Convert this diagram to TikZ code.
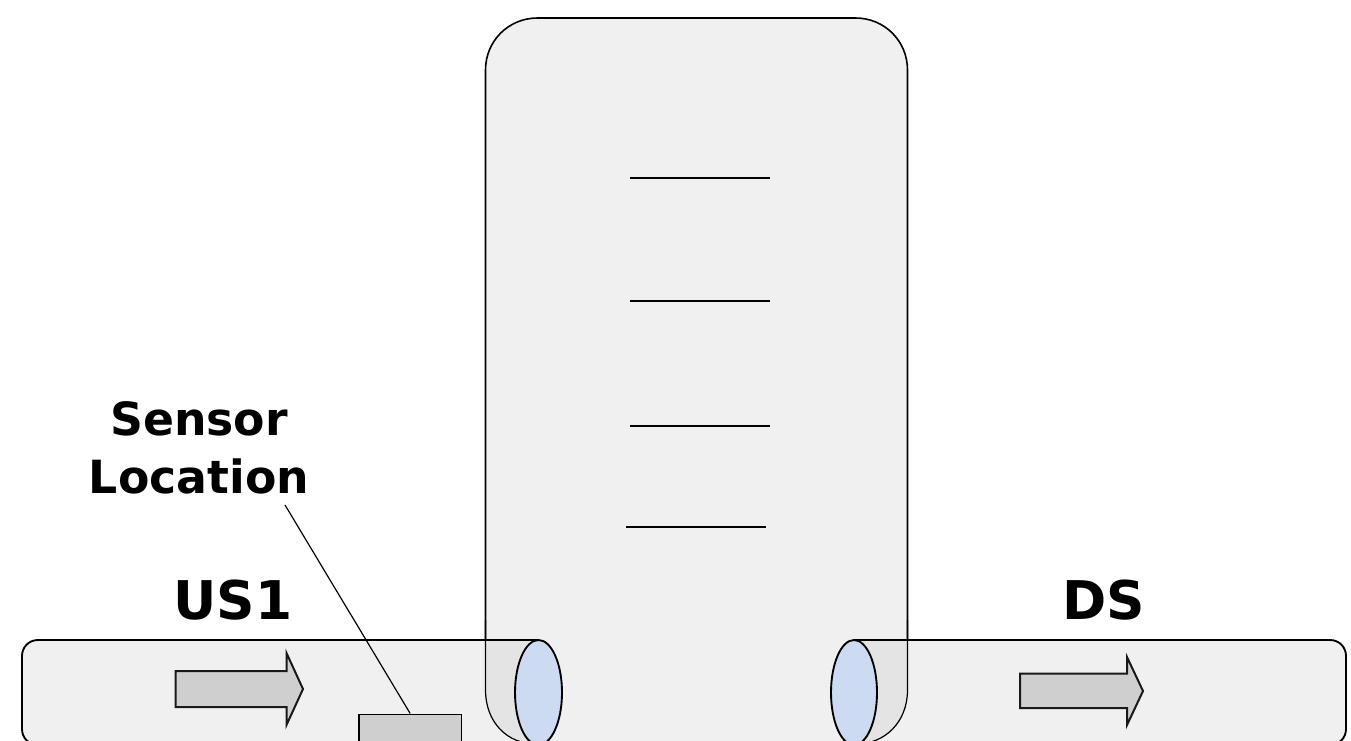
\documentclass[tikz,border=0pt]{standalone}
\usepackage{fontspec}
\setmainfont{DejaVu Sans}
\definecolor{body}{HTML}{F0F0F0}
\definecolor{sidegrey}{HTML}{E4E4E4}
\definecolor{mouth}{HTML}{CCDBF2}
\definecolor{part}{HTML}{CFCFCF}
\tikzset{
  shell/.style={draw=black,fill=body,line width=1.2pt},
  edgeline/.style={draw=black,line width=1.4pt},
  thinedge/.style={draw=black,line width=0.9pt},
  mouthring/.style={draw=black,fill=mouth,line width=1.4pt},
  flow/.style={draw=black!90,fill=part,line width=1.5pt,line join=miter},
  tray/.style={draw=black,line width=1.3pt},
  lead/.style={draw=black,line width=0.9pt},
  bigtext/.style={font=\bfseries\fontsize{40pt}{46pt}\selectfont,inner sep=0pt},
  midtext/.style={font=\bfseries\fontsize{34.3pt}{43pt}\selectfont,inner sep=0pt,align=center}
}
\begin{document}
\begin{tikzpicture}[x=0.75pt,y=-0.75pt]
\useasboundingbox (0,0) rectangle (1351,740);
\fill[white] (0,0) rectangle (1351,740);
\begin{scope}
\clip (0,0) rectangle (1351,741);
% column body
\draw[shell] (485.5,690) -- (485.5,70) .. controls (485.5,41) and (508.5,18) .. (537.5,18) -- (855.5,18) .. controls (884.5,18) and (907.5,41) .. (907.5,70) -- (907.5,690) .. controls (907.5,722) and (885,744) .. (856,744) -- (536,744) .. controls (507,744) and (485.5,722) .. (485.5,690) -- cycle;
% left pipe
\fill[body] (538.5,640) -- (38,640) .. controls (29,640) and (22,647) .. (22,656) -- (22,729) .. controls (22,738) and (29,745) .. (38,745) -- (538.5,745) -- cycle;
\draw[edgeline] (538.5,640) -- (38,640) .. controls (29,640) and (22,647) .. (22,656) -- (22,729) .. controls (22,738) and (29,745) .. (38,745);
% right pipe
\fill[body] (854,640) -- (1330,640) .. controls (1339,640) and (1346,647) .. (1346,656) -- (1346,729) .. controls (1346,738) and (1339,745) .. (1330,745) -- (854,745) -- cycle;
\draw[edgeline] (854,640) -- (1330,640) .. controls (1339,640) and (1346,647) .. (1346,656) -- (1346,729) .. controls (1346,738) and (1339,745) .. (1330,745);
% shaded column ends
\fill[sidegrey] (485.5,640) -- (538.5,640) -- (538.5,745) -- (536,744) .. controls (507,744) and (485.5,722) .. (485.5,690) -- cycle;
\fill[sidegrey] (907.5,640) -- (854,640) -- (854,745) -- (856,744) .. controls (885,744) and (907.5,722) .. (907.5,690) -- cycle;
\draw[thinedge] (485.5,620) -- (485.5,690) .. controls (485.5,722) and (507,744) .. (536,744);
\draw[thinedge] (907.5,620) -- (907.5,690) .. controls (907.5,722) and (885,744) .. (856,744);
\draw[edgeline] (485,640) -- (538.5,640);
\draw[edgeline] (854,640) -- (908,640);
% openings
\draw[mouthring] (538.5,692.5) ellipse[x radius=23.5,y radius=52.5];
\draw[mouthring] (854,692.5) ellipse[x radius=23,y radius=52.5];
% sensor
\node[tray,fill=part,minimum width=77pt,minimum height=30pt,inner sep=0pt,anchor=north west] (sensor) at (358,713.5) {};
\end{scope}
% flow arrows
\draw[flow] (175.5,671) -- (286.5,671) -- (286.5,653) -- (303,689) -- (286.5,725) -- (286.5,707) -- (175.5,707) -- cycle;
\draw[flow] (1020,673.5) -- (1127,673.5) -- (1127,657) -- (1143,691) -- (1127,725) -- (1127,708) -- (1020,708) -- cycle;
% tray lines
\coordinate (t1a) at (630,178); \coordinate (t1b) at (770,178);
\coordinate (t2a) at (630,301); \coordinate (t2b) at (770,301);
\coordinate (t3a) at (630,426); \coordinate (t3b) at (770,426);
\coordinate (t4a) at (626,527); \coordinate (t4b) at (766,527);
\draw[tray] (t1a) -- (t1b);
\draw[tray] (t2a) -- (t2b);
\draw[tray] (t3a) -- (t3b);
\draw[tray] (t4a) -- (t4b);
% labels
\node[midtext] (label) at (199,448) {Sensor\\Location};
\coordinate (leadstart) at (285,505);
\draw[lead] (leadstart) -- (sensor.north);
\node[bigtext] (us) at (233,600) {US1};
\node[bigtext] (ds) at (1104,600) {DS};
\end{tikzpicture}
\end{document}
